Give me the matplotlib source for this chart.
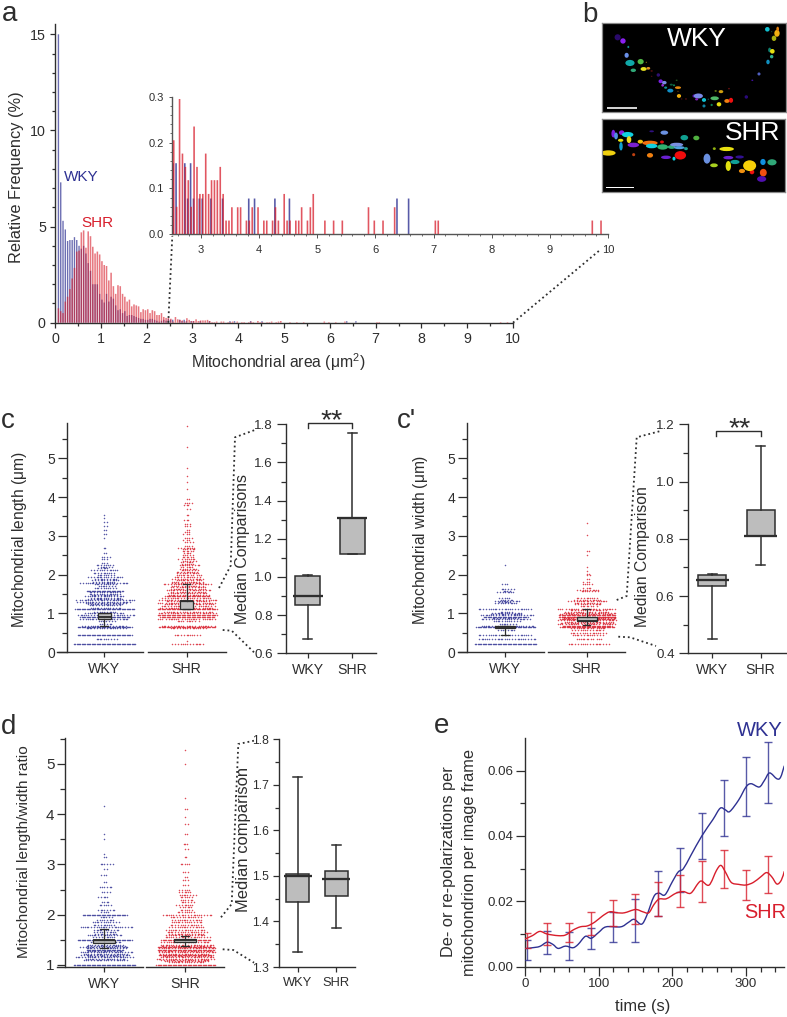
import matplotlib
matplotlib.use("Agg")
import matplotlib.pyplot as plt
from matplotlib.lines import Line2D
from matplotlib.patches import Ellipse, Rectangle, PathPatch
from matplotlib.path import Path
from matplotlib.ticker import MultipleLocator, FixedLocator, FormatStrFormatter
import numpy as np

plt.rcParams['font.family'] = ['Liberation Sans', 'DejaVu Sans']
plt.rcParams['mathtext.default'] = 'regular'
plt.rcParams['mathtext.fontset'] = 'custom'
plt.rcParams['mathtext.rm'] = 'Liberation Sans'

W, H = 787, 1017
BLUE = '#2e3192'
RED = '#d81e2c'
INK = '#2e2e2e'
GREY = '#bdbdbd'

# ---------- panel a: histogram ----------
a_wky_x = [0.075 + 0.05 * i for i in range(49)]
a_wky_y = [15, 7.3, 5.3, 4.85, 4.25, 4.3, 4.3, 4.45, 4.3, 4.0, 3.85, 4.0, 3.6, 3.1, 2.7, 2.0, 2.0, 2.0,
           1.5, 1.2, 1.05, 1.5, 1.1, 1.35, 1.25, .9, .65, .7, .5, .6, .35, .4, .4, .35, .3, .25, .2, .2,
           .15, .15, .2, .2, .15, .1, .05, .1, .15, .1, .2]
a_shr_x = a_wky_x
a_shr_y = [.75, .6, .5, 1.1, 1.35, 1.75, 2.3, 2.85, 3.7, 3.75, 4.7, 4.8, 3.9, 4.75, 4.5, 3.95, 3.6, 3.7,
           3.55, 3.2, 3.0, 2.95, 2.2, 2.6, 1.9, 1.5, 1.95, 1.9, 1.5, 1.35, 1.1, 1.2, .85, .95, .9, .85,
           .55, .7, .65, .7, .5, .65, .6, .4, .4, .5, .3, .25, .25]
inset_shr_x = [2.53, 2.58, 2.63, 2.68, 2.73, 2.78, 2.83, 2.88, 2.93, 2.98, 3.03, 3.08, 3.13, 3.18, 3.23,
               3.28, 3.33, 3.38, 3.43, 3.48, 3.53, 3.63, 3.68, 3.78, 3.83, 3.88, 3.98, 4.08, 4.13, 4.23,
               4.28, 4.33, 4.43, 4.48, 4.53, 4.63, 4.68, 4.73, 4.83, 4.88, 4.93, 5.13, 5.28, 5.43, 5.88,
               5.98, 6.13, 6.33, 7.03, 7.08, 9.73, 9.88]
inset_shr_y = [.205, .06, .295, .176, .147, .118, .06, .235, .147, .088, .088, .176, .088, .118, .118,
               .118, .147, .088, .03, .03, .059, .059, .059, .03, .03, .059, .059, .03, .03, .03,
               .059, .03, .088, .03, .03, .03, .03, .059, .03, .059, .088, .03, .03, .03, .059,
               .03, .03, .059, .03, .03, .03, .03]
inset_wky_x = [2.52, 2.57, 2.72, 2.82, 2.77, 2.87, 2.97, 3.02, 3.17, 3.37, 3.82, 3.92, 4.27, 4.52, 6.37, 6.57]
inset_wky_y = [.155, .155, .155, .155, .078, .078, .078, .078, .078, .078, .078, .078, .078, .078, .078, .078]
inset_x_ticks = [3, 4, 5, 6, 7, 8, 9, 10]
inset_y_ticks = [0.0, 0.1, 0.2, 0.3]

# ---------- panels c, c', d: swarm rows (value, number of mitochondria) ----------
c_wky_levels = [.22, .33, .45, .62, .66, .68, .85, .90, .95, 1.0, 1.05, 1.12, 1.25, 1.30, 1.35, 1.40, 1.45, 1.5, 1.58,
                1.65, 1.78, 1.85, 1.95, 2.05, 2.12, 2.2, 2.25, 2.4, 2.45, 2.55, 2.7, 2.95, 3.05, 3.15, 3.25, 3.35, 3.45, 3.55,
                .72, .8, 1.15, 1.22, 1.28, 1.38, 1.48, 1.55, 1.7, 1.75, 1.82, 1.9, 2.0, 2.17, 2.3]
c_wky_counts = [50, 10, 44, 18, 44, 20, 22, 40, 26, 18, 10, 48, 16, 24, 26, 14, 18, 14, 30,
                10, 22, 12, 16, 10, 12, 6, 8, 3, 4, 2, 2, 1, 2, 2, 2, 2, 1, 1,
                6, 8, 14, 14, 18, 16, 12, 14, 8, 10, 10, 10, 8, 5, 3]
c_shr_levels = [.22, .30, .45, .62, .65, .68, .85, .90, .95, 1.0, 1.05, 1.12, 1.2, 1.28, 1.35, 1.45, 1.52, 1.6, 1.68, 1.75,
                1.82, 1.9, 2.0, 2.08, 2.15, 2.25, 2.32, 2.4, 2.5, 2.6, 2.7, 2.85, 2.95, 3.05, 3.15, 3.25, 3.4, 3.55, 3.7,
                3.85, 3.95, 4.2, 4.4, 4.55, 4.75, 5.3, 5.82,
                .8, 1.15, 1.24, 1.32, 1.4, 1.48, 1.56, 1.64, 1.72, 1.78, 1.86, 1.95, 2.04, 2.12, 2.2, 2.28, 2.36, 2.45,
                2.55, 2.65, 2.75, 2.9, 3.1, 3.3, 3.8]
c_shr_counts = [14, 1, 12, 16, 46, 24, 26, 44, 48, 26, 22, 48, 24, 26, 26, 36, 18, 20, 16, 22,
                14, 14, 12, 10, 8, 10, 6, 8, 5, 6, 8, 4, 4, 3, 2, 3, 3, 2, 2,
                4, 2, 1, 1, 1, 1, 1, 1,
                10, 24, 22, 20, 22, 18, 16, 16, 14, 14, 12, 12, 10, 8, 6, 6, 6, 6,
                4, 6, 4, 3, 3, 3, 3]
w_wky_levels = [.22, .33, .45, .65, .68, .85, .90, .95, 1.0, 1.12, 1.28, 1.33, 1.4, 1.55, 1.62, 1.75, 2.25,
                .58, .72, .8, .88, .98, 1.05, 1.3, 1.36, 1.58]
w_wky_counts = [50, 26, 24, 48, 24, 22, 36, 24, 14, 24, 10, 12, 5, 8, 6, 3, 1,
                8, 8, 12, 12, 14, 6, 6, 6, 4]
w_shr_levels = [.22, .33, .45, .5, .65, .68, .72, .78, .85, .90, .95, 1.0, 1.05, 1.12, 1.25, 1.32, 1.4, 1.6, 1.75, 1.8,
                1.9, 2.0, 2.1, 2.2, 2.5, 2.6, 3.02, 3.32,
                .58, .62, .75, .82, .88, .92, .98, 1.08, 1.2, 1.28, 1.35, 1.58, 1.65, 2.03]
w_shr_counts = [18, 12, 14, 16, 44, 40, 26, 22, 44, 46, 46, 24, 20, 26, 12, 18, 10, 10, 5, 3,
                2, 2, 1, 1, 1, 2, 1, 1,
                14, 16, 24, 26, 24, 24, 24, 16, 8, 12, 12, 8, 4, 2]
r_wky_levels = [1.0, 1.1, 1.15, 1.2, 1.25, 1.3, 1.35, 1.4, 1.5, 1.6, 1.65, 1.75, 1.85, 2.0, 2.1, 2.2, 2.35, 2.55, 2.65,
                2.8, 2.9, 3.0, 3.15, 3.2, 3.5, 3.6, 4.16,
                1.12, 1.18, 1.22, 1.28, 1.33, 1.38, 1.45, 1.55, 1.62, 1.7, 1.8, 1.9, 1.95, 2.05, 2.25, 2.45]
r_wky_counts = [50, 20, 26, 22, 24, 30, 22, 16, 44, 16, 10, 24, 12, 36, 8, 6, 5, 6, 2,
                3, 2, 6, 2, 1, 1, 1, 1,
                18, 16, 20, 16, 18, 18, 14, 10, 10, 12, 10, 8, 6, 4, 4, 4]
r_shr_levels = [1.0, 1.08, 1.12, 1.2, 1.25, 1.3, 1.35, 1.4, 1.5, 1.6, 1.65, 1.75, 1.85, 1.95, 2.0, 2.1, 2.2, 2.3, 2.4,
                2.5, 2.7, 2.85, 3.0, 3.15, 3.3, 3.4, 3.6, 3.8, 3.95, 4.1, 4.33, 5.0, 5.27,
                1.05, 1.1, 1.15, 1.18, 1.22, 1.28, 1.33, 1.38, 1.45, 1.55, 1.62, 1.7, 1.8, 1.9, 2.05, 2.15, 2.25, 2.35,
                2.45, 2.6, 2.75]
r_shr_counts = [48, 20, 26, 44, 26, 46, 46, 24, 40, 18, 18, 16, 14, 14, 22, 6, 8, 6, 8,
                5, 3, 3, 5, 2, 2, 3, 2, 2, 1, 2, 1, 1, 1,
                16, 22, 24, 22, 22, 24, 26, 22, 22, 20, 16, 18, 14, 14, 8, 6, 6, 6,
                6, 3, 2]

# box statistics: whisker low, q1, median, q3, whisker high
c_wky_box = [.675, .855, .90, 1.005, 1.01]
c_shr_box = [1.12, 1.122, 1.31, 1.31, 1.755]
w_wky_box = [.45, .635, .655, .675, .678]
w_shr_box = [.71, .81, .81, .90, 1.125]
r_wky_box = [1.333, 1.443, 1.50, 1.505, 1.717]
r_shr_box = [1.386, 1.455, 1.494, 1.51, 1.568]
group_names = ['WKY', 'SHR']

# ---------- panel e ----------
e_wky_t = [0, 10, 20, 30, 38, 45, 55, 65, 72, 82, 90, 100, 110, 130, 140, 148, 158, 165, 175, 182, 190, 200, 208,
           215, 225, 240, 255, 265, 272, 278, 290, 300, 307, 318, 325, 332, 342, 347, 352]
e_wky_v = [.0055, .0058, .0062, .0075, .0068, .0056, .0063, .0058, .0068, .0093, .0087, .0105, .0122, .0122, .0135,
           .0145, .013, .0155, .0215, .0225, .022, .026, .029, .03, .034, .04, .045, .0485, .048, .0475, .051, .055,
           .056, .055, .057, .0593, .0575, .058, .0615]
e_shr_t = [0, 10, 20, 30, 45, 55, 65, 75, 85, 95, 105, 115, 125, 135, 150, 160, 168, 175, 182, 192, 205, 215, 225,
           235, 240, 250, 260, 266, 272, 280, 290, 300, 310, 320, 328, 335, 342, 348, 352]
e_shr_v = [.0085, .0095, .0108, .01, .0095, .0097, .0112, .0122, .0125, .0137, .0155, .0168, .0165, .0165, .0175,
           .0168, .0165, .019, .0207, .0208, .0225, .023, .0225, .0255, .0262, .025, .0295, .031, .029, .0258, .0252,
           .025, .0258, .0275, .0288, .0275, .0253, .0265, .0292]
err_t = [3, 30, 60, 90, 120, 150, 180, 210, 240, 270, 300, 330]
err_wky_lo = [.0022, .004, .0022, .0053, .0076, .0075, .0155, .0228, .033, .04, .046, .0502]
err_wky_hi = [.0082, .011, .0106, .0118, .0168, .0207, .0292, .0362, .047, .057, .0643, .0687]
err_shr_lo = [.0056, .0065, .0075, .0098, .0125, .013, .0155, .0182, .0198, .024, .0205, .0225]
err_shr_hi = [.0102, .0135, .0133, .0167, .0205, .0222, .0258, .028, .0325, .0358, .0295, .0338]

# ---------- panel b: fluorescent mitochondria (x, y, w, h, colour) ----------
b_wky_blobs = [
    (53,52,16,16,'#2a0a6a'),(69,63,14,14,'#8a20f0'),(85,81,5,6,'#109090'),(80,106,11,13,'#6a90e8'),
    (90,129,24,16,'#10a8a8'),(122,125,16,14,'#50b848'),(100,151,14,9,'#30a878'),(131,147,16,10,'#e8e020'),
    (145,145,10,7,'#e09020'),(139,127,3,3,'#a08010'),(155,153,6,4,'#601010'),(155,169,4,3,'#501010'),
    (175,165,9,9,'#301070'),(182,184,11,10,'#7a20e0'),(193,188,12,9,'#7a8ae0'),(188,196,7,7,'#9030d0'),
    (197,203,8,6,'#109090'),(211,212,16,10,'#1090c8'),(214,194,8,5,'#106040'),(222,196,6,5,'#108050'),
    (230,181,5,4,'#205020'),(234,203,16,7,'#e08810'),(234,214,3,3,'#805010'),(237,228,11,10,'#f0b010'),
    (245,237,4,3,'#501010'),(258,237,5,4,'#501010'),(282,228,8,8,'#5010a0'),(295,228,24,13,'#7a8ae8'),
    (290,238,8,6,'#8a20c0'),(312,240,11,10,'#10c0d0'),(312,258,8,8,'#1080a0'),(335,255,6,6,'#108050'),
    (325,238,4,4,'#104040'),(344,235,22,10,'#50b868'),(347,213,6,5,'#607010'),(363,215,12,8,'#d0a010'),
    (357,253,12,11,'#e8e010'),(381,243,14,10,'#f08010'),(393,241,11,13,'#f01010'),(387,206,5,4,'#601010'),
    (439,231,9,9,'#2a0a7a'),(457,181,5,4,'#4010a0'),(477,162,8,8,'#5060c0'),(504,126,9,12,'#1090c0'),
    (515,110,9,9,'#30b090'),(509,90,8,12,'#108070'),(517,94,12,12,'#e8e010'),(502,28,12,12,'#10c0d0'),
    (515,35,3,3,'#105030'),(522,55,12,14,'#a8b010'),(531,40,14,18,'#f0b010'),(533,27,7,12,'#e08010')]
b_shr_blobs = [
    (25,108,38,14,'#f0d010'),(40,50,10,20,'#7a20e0'),(48,57,10,18,'#5090e0'),(65,47,14,12,'#8a20e0'),
    (83,53,30,14,'#10d0e0'),(62,70,14,8,'#e8e010'),(63,88,9,22,'#10a0d0'),(87,68,12,18,'#f0d820'),
    (100,84,30,12,'#7a20d0'),(121,74,14,10,'#f0c010'),(150,78,40,12,'#f07010'),(155,87,30,12,'#10d0e0'),
    (186,75,10,8,'#e01010'),(188,90,28,14,'#30b070'),(215,90,20,10,'#30a878'),(230,83,34,10,'#7a90e0'),
    (238,92,28,8,'#50a0e0'),(258,95,10,8,'#20a090'),(155,43,12,5,'#301080'),(193,47,20,11,'#6a90e0'),
    (253,62,20,14,'#10a090'),(289,63,16,12,'#50b040'),(101,113,8,8,'#c04010'),(150,115,16,12,'#f08010'),
    (198,121,26,9,'#6a20d0'),(222,125,8,10,'#10d0e0'),(241,115,30,22,'#f00c0c'),(321,125,18,26,'#6a90e0'),
    (343,95,8,7,'#90b010'),(380,96,38,11,'#e8e010'),(342,145,20,10,'#a8d020'),(385,122,26,9,'#6a20d0'),
    (419,120,22,8,'#301090'),(405,135,24,11,'#10a098'),(385,147,14,26,'#e0e010'),(426,162,16,11,'#f09010'),
    (456,165,12,12,'#f01010'),(449,146,34,28,'#f8d008'),(489,135,14,16,'#1090e0'),(516,136,24,16,'#30a878'),
    (490,167,18,20,'#f05010'),(485,186,24,15,'#5010b0')]

# ---------- helpers ----------
fig = plt.figure(figsize=(W / 100, H / 100), dpi=100)
fig.patch.set_facecolor('white')


def pt(px):
    return px * 0.72


def new_axes(l, r, t, b, xlim, ylim):
    ax = fig.add_axes([l / W, 1 - b / H, (r - l) / W, (b - t) / H])
    ax.set_xlim(*xlim)
    ax.set_ylim(*ylim)
    ax.patch.set_visible(False)
    for s in ('top', 'right'):
        ax.spines[s].set_visible(False)
    for s in ax.spines.values():
        s.set_color(INK)
        s.set_linewidth(1.0)
    return ax


def style_ticks(ax, labelsize=10.5, maj=9, mino=5, pad=2):
    ax.tick_params(which='major', length=pt(maj), width=0.9, color=INK, labelcolor=INK,
                   labelsize=labelsize, pad=pad)
    ax.tick_params(which='minor', length=pt(mino), width=0.9, color=INK)


def fline(xs, ys, **kw):
    kw.setdefault('color', INK)
    kw.setdefault('lw', 1.0)
    fig.add_artist(Line2D([x / W for x in xs], [1 - y / H for y in ys], transform=fig.transFigure, **kw))


def ftext(x, y, s, size=11, color=INK, rotation=0, ha='center', va='center'):
    fig.text(x / W, 1 - y / H, s, fontsize=size, color=color, rotation=rotation, ha=ha, va=va)


def draw_box(ax, pos, stats, width, cap, lw, med_extra=1.0):
    st = [dict(whislo=stats[0], q1=stats[1], med=stats[2], q3=stats[3], whishi=stats[4])]
    r = ax.bxp(st, positions=[pos], widths=width, patch_artist=True, showfliers=False, manage_ticks=False,
               capwidths=cap,
               boxprops=dict(facecolor=GREY, edgecolor=INK, lw=lw),
               whiskerprops=dict(color=INK, lw=lw), capprops=dict(color=INK, lw=lw),
               medianprops=dict(color=INK, lw=lw * 1.5), zorder=5)
    m = r['medians'][0]
    xd = m.get_xdata()
    c = (xd[0] + xd[1]) / 2
    half = (xd[1] - xd[0]) / 2 * med_extra
    m.set_xdata([c - half, c + half])


GAPS = [1.4, 2.9, 1.9, 3.3, 1.6, 2.6, 2.2]


def swarm(ax, pos, levels, counts, color, px_per_cat):
    xs, ys = [], []
    for row, (y, n) in enumerate(zip(levels, counts)):
        right, left = 0.0, 0.0
        for i in range(n):
            if i == 0:
                off = 0.0
            elif n > 26:
                step = 1.25
                right += step if i % 2 else 0
                left += 0 if i % 2 else step
                off = right if i % 2 else -left
            else:
                g = GAPS[(i + row * 3) % len(GAPS)]
                if i % 2:
                    right += g
                    off = right
                else:
                    left += g
                    off = -left
            xs.append(pos + off / px_per_cat)
            ys.append(y)
    ax.scatter(xs, ys, s=1.2, c=color, linewidths=0, alpha=0.8, clip_on=False, zorder=2)


def swarm_panel(spine_x, tick0, tick1, seg0, seg1, top, bottom, ylim, major_step, minor_step, lv0, ct0, lv1, ct1,
                box0, box1, boxw, lsize=10, maj=9):
    ppc = tick1 - tick0
    r = seg1[1]
    ax = new_axes(spine_x, r, top, bottom, ((spine_x - tick0) / ppc, (r - tick0) / ppc), ylim)
    ax.spines['bottom'].set_visible(False)
    ax.yaxis.set_major_locator(MultipleLocator(major_step))
    ax.yaxis.set_minor_locator(MultipleLocator(minor_step))
    ax.set_xticks([0, 1], group_names)
    style_ticks(ax, labelsize=lsize, maj=maj, mino=5, pad=2)
    ax.tick_params(axis='x', length=pt(4.5), pad=4, labelsize=10.2)
    swarm(ax, 0, lv0, ct0, BLUE, ppc)
    swarm(ax, 1, lv1, ct1, RED, ppc)
    draw_box(ax, 0, box0, boxw / ppc, 0.09, 0.9)
    draw_box(ax, 1, box1, boxw / ppc, 0.09, 0.9)
    fline(seg0, [bottom, bottom])
    fline(seg1, [bottom, bottom])
    return ax


def median_panel(l, r, tick0, tick1, top, bottom, ylim, major, minor, box0, box1, boxw, fmt, lsize=9.6, xsize=10.2,
                 maj=9, mino=5):
    ppc = tick1 - tick0
    ax = new_axes(l, r, top, bottom, ((l - tick0) / ppc, (r - tick0) / ppc), ylim)
    ax.yaxis.set_major_locator(MultipleLocator(major))
    ax.yaxis.set_minor_locator(MultipleLocator(minor))
    ax.yaxis.set_major_formatter(FormatStrFormatter(fmt))
    ax.set_xticks([0, 1], group_names)
    style_ticks(ax, labelsize=lsize, maj=maj, mino=mino, pad=3)
    ax.tick_params(axis='x', length=pt(4.5), pad=4, labelsize=xsize)
    draw_box(ax, 0, box0, boxw / ppc, 9 / ppc, 1.1, 1.2)
    draw_box(ax, 1, box1, boxw / ppc, 9 / ppc, 1.1, 1.2)
    return ax


def smooth_line(ax, t, v, color, lw, z):
    # the read points are joined by a rounded curve when drawn, as in the source plot
    t, v = np.asarray(t, float), np.asarray(v, float)
    verts, codes = [(t[0], v[0])], [Path.MOVETO]
    n = len(t)
    for i in range(n - 1):
        p0 = np.array([t[max(i - 1, 0)], v[max(i - 1, 0)]])
        p1 = np.array([t[i], v[i]])
        p2 = np.array([t[i + 1], v[i + 1]])
        p3 = np.array([t[min(i + 2, n - 1)], v[min(i + 2, n - 1)]])
        verts += [tuple(p1 + (p2 - p0) / 6), tuple(p2 - (p3 - p1) / 6), tuple(p2)]
        codes += [Path.CURVE4] * 3
    ax.add_patch(PathPatch(Path(verts, codes), fill=False, edgecolor=color, lw=lw, zorder=z))


# ---------- panel a ----------
ax = new_axes(55, 513, 24.3, 322.7, (0, 10), (0, 15.52))
bkw = dict(lw=0, snap=False)
ax.bar(a_wky_x, a_wky_y, width=0.03, color=BLUE, alpha=0.7, zorder=2, **bkw)
ax.bar(inset_wky_x, inset_wky_y, width=0.03, color=BLUE, alpha=0.7, zorder=2, **bkw)
ax.bar(a_shr_x, a_shr_y, width=0.034, color=RED, alpha=0.6, zorder=3, **bkw)
ax.bar(inset_shr_x, inset_shr_y, width=0.034, color=RED, alpha=0.6, zorder=3, **bkw)
ax.xaxis.set_major_locator(MultipleLocator(1))
ax.xaxis.set_minor_locator(MultipleLocator(0.5))
ax.yaxis.set_major_locator(FixedLocator([0, 5, 10, 15]))
ax.yaxis.set_minor_locator(MultipleLocator(1))
style_ticks(ax, labelsize=10.3, maj=5, mino=3, pad=3)
ftext(17, 177, 'Relative Frequency (%)', 11.8, rotation=90)
ftext(278, 362, r'Mitochondrial area ($\mu$m$^2$)', 11.3)
ftext(81, 177, 'WKY', 11, color=BLUE)
ftext(97, 223, 'SHR', 11, color=RED)
ftext(10, 14, 'a', 20)

ins = new_axes(172, 608, 96.7, 234.3, (2.5, 10), (0, 0.3))
ins.bar(inset_wky_x, inset_wky_y, width=0.028, color=BLUE, alpha=0.8, zorder=2, **bkw)
ins.bar(inset_shr_x, inset_shr_y, width=0.028, color=RED, alpha=0.75, zorder=3, **bkw)
ins.set_xticks(inset_x_ticks)
ins.xaxis.set_minor_locator(MultipleLocator(0.2))
ins.set_yticks(inset_y_ticks)
ins.yaxis.set_major_formatter(FormatStrFormatter('%.1f'))
ins.yaxis.set_minor_locator(MultipleLocator(0.02))
for s in ins.spines.values():
    s.set_color('#555555')
ins.tick_params(which='major', length=pt(3.5), width=0.7, color='#555555', labelcolor=INK, labelsize=8, pad=3)
ins.tick_params(axis='x', which='major', pad=5)
ins.tick_params(which='minor', length=pt(2), width=0.6, color='#555555')
fline([168.3, 172.3], [322.7, 236], ls=':', lw=1.3)
fline([513, 600], [322.7, 250], ls=':', lw=1.3)

# ---------- panel b ----------
ftext(590, 15, 'b', 20)
for blobs, (l, r, t, b), (zx0, zx1, zy0, zy1), label, lab_xy, bar in [
    (b_wky_blobs, (602.3, 786, 23.3, 112.3), (7, 558, 10, 277), 'WKY', (292, 56), (22, 110, 264, '#d0d0d0')),
    (b_shr_blobs, (602, 785.3, 119.3, 192), (6, 556, 7, 225), 'SHR', (458, 47), (17, 103, 211, '#ffffff')),
]:
    im = fig.add_axes([l / W, 1 - b / H, (r - l) / W, (b - t) / H])
    im.set_xlim(zx0, zx1)
    im.set_ylim(zy1, zy0)
    im.set_facecolor('black')
    im.set_xticks([])
    im.set_yticks([])
    for s in im.spines.values():
        s.set_color('#8a8a8a')
        s.set_linewidth(0.9)
    for x, y, w, h, c in blobs:
        im.add_patch(Ellipse((x, y), w * 1.15, h * 1.15, color=c, lw=0))
    im.add_patch(Rectangle((bar[0], bar[2] - 2), bar[1] - bar[0], 4, color=bar[3], lw=0))
    im.text(lab_xy[0], lab_xy[1], label, color='white', fontsize=19, ha='center', va='center')

# ---------- panel c ----------
swarm_panel(66.7, 104, 186.7, [57, 143], [148, 226], 423.3, 652.3, (0, 5.9), 1, 0.5,
            c_wky_levels, c_wky_counts, c_shr_levels, c_shr_counts, c_wky_box, c_shr_box, 13)
median_panel(286, 376, 307.7, 352.3, 424.3, 653.3, (0.6, 1.8), 0.2, 0.1, c_wky_box, c_shr_box, 25, '%.1f')
ftext(20, 540, r'Mitochondrial length ($\mu$m)', 11.2, rotation=90)
ftext(243, 549, 'Median Comparisons', 11.4, rotation=90)
ftext(8, 421, 'c', 20)
fline([307.7, 307.7, 352.3, 352.3], [427.7, 423.3, 423.3, 427.7])
ftext(332, 421, '**', 20.5)
fline([219, 230.7, 235, 256.7], [588, 565.7, 437.3, 429.3], ls=':', lw=1.3)
fline([222.7, 231.7, 254], [630, 630.7, 652.3], ls=':', lw=1.3)

# ---------- panel c' ----------
swarm_panel(466.7, 505, 586.7, [457.7, 544], [548, 625], 423.3, 652.3, (0, 5.9), 1, 0.5,
            w_wky_levels, w_wky_counts, w_shr_levels, w_shr_counts, w_wky_box, w_shr_box, 20)
median_panel(687.7, 785.7, 712.3, 760.7, 424.3, 653.3, (0.4, 1.2), 0.2, 0.1, w_wky_box, w_shr_box, 27.7, '%.1f')
ftext(420.7, 540, r'Mitochondrial width ($\mu$m)', 11.2, rotation=90)
ftext(642.7, 556.7, 'Median Comparison', 11.3, rotation=90)
ftext(406, 421, "c'", 20)
fline([716.3, 716.3, 761, 761], [436, 430.7, 430.7, 436])
ftext(740, 429, '**', 20.5)
fline([616.7, 626.7, 636.7, 661.7], [600, 596, 437.3, 430.7], ls=':', lw=1.3)
fline([618.3, 630, 656], [636.7, 637.3, 646], ls=':', lw=1.3)

# ---------- panel d ----------
swarm_panel(65, 104, 185, [57, 142.7], [146, 224], 738.3, 967.3, (0.954, 5.51), 1, 0.5,
            r_wky_levels, r_wky_counts, r_shr_levels, r_shr_counts, r_wky_box, r_shr_box, 22, lsize=11, maj=7.7)
median_panel(278.7, 355, 297.7, 336, 739.3, 967, (1.3, 1.8), 0.1, 0.05, r_wky_box, r_shr_box, 23, '%.1f', xsize=9.3,
             lsize=8.8, maj=6, mino=4)
ftext(24, 852, 'Mitochondrial length/width ratio', 11.1, rotation=90)
ftext(243.5, 839, 'Median comparison', 11.9, rotation=90)
ftext(9, 727, 'd', 20)
fline([221, 231.7, 238.3, 254], [917.3, 904, 744, 740.7], ls=':', lw=1.3)
fline([222.7, 233.3, 254], [949.3, 950, 962.7], ls=':', lw=1.3)

# ---------- panel e ----------
ax = new_axes(525, 784, 738.3, 966.7, (0, 351.6), (0, 0.0699))
smooth_line(ax, e_wky_t, e_wky_v, BLUE, 1.0, 3)
smooth_line(ax, e_shr_t, e_shr_v, RED, 1.0, 4)
ekw = dict(fmt='none', capsize=3.2, capthick=1.0, elinewidth=1.0, alpha=0.8)
lo, hi = np.array(err_wky_lo), np.array(err_wky_hi)
ax.errorbar(err_t, (lo + hi) / 2, yerr=(hi - lo) / 2, ecolor=BLUE, zorder=3, **ekw)
lo, hi = np.array(err_shr_lo), np.array(err_shr_hi)
ax.errorbar(err_t, (lo + hi) / 2, yerr=(hi - lo) / 2, ecolor=RED, zorder=4, **ekw)
ax.xaxis.set_major_locator(MultipleLocator(100))
ax.xaxis.set_minor_locator(MultipleLocator(20))
ax.yaxis.set_major_locator(FixedLocator([0, .02, .04, .06]))
ax.yaxis.set_major_formatter(FormatStrFormatter('%.2f'))
ax.yaxis.set_minor_locator(MultipleLocator(0.01))
style_ticks(ax, labelsize=9.6, pad=2)
ftext(448, 862, 'De- or re-polarizations per', 11.8, rotation=90)
ftext(470, 862, 'mitochondrion per image frame', 11.8, rotation=90)
ftext(643, 1007, 'time (s)', 11.9)
ftext(760, 730, 'WKY', 14.5, color=BLUE)
ftext(765, 912, 'SHR', 14.3, color=RED)
ftext(442, 726, 'e', 20)

fig.savefig('out.png', dpi=100, facecolor='white')
